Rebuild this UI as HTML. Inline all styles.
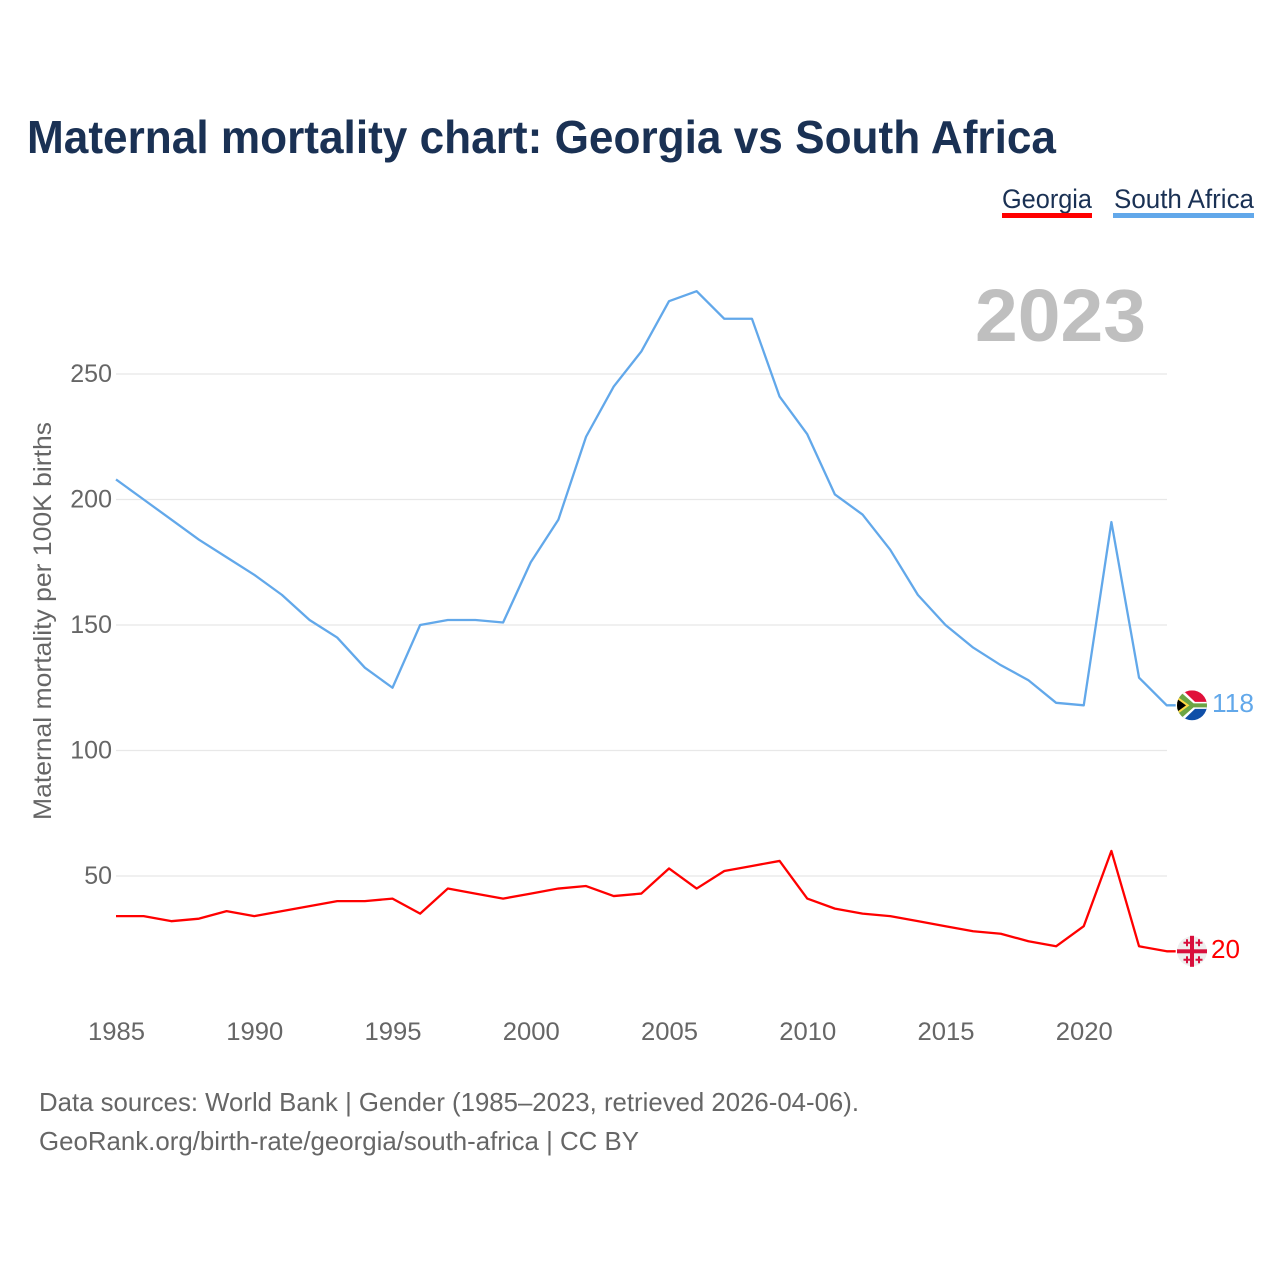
<!DOCTYPE html>
<html lang="en">
<head>
<meta charset="utf-8">
<title>Maternal mortality chart: Georgia vs South Africa</title>
<style>
html,body{margin:0;padding:0;background:#fff;width:1280px;height:1280px;overflow:hidden}
svg{display:block}
text{font-family:"Liberation Sans",sans-serif}
</style>
</head>
<body>
<svg id="chart" xmlns="http://www.w3.org/2000/svg" width="1280" height="1280" viewBox="0 0 1280 1280">
  <text x="27" y="153" font-size="46" font-weight="700" fill="#1a3154" textLength="1029" lengthAdjust="spacingAndGlyphs">Maternal mortality chart: Georgia vs South Africa</text>
  <g>
    <g>
      <text x="1002" y="208" font-size="27" fill="#1a3154" textLength="90" lengthAdjust="spacingAndGlyphs">Georgia</text>
      <rect x="1002" y="213" width="90" height="5" fill="#ff0000"/>
    </g>
    <g>
      <text x="1114" y="208" font-size="27" fill="#1a3154" textLength="140" lengthAdjust="spacingAndGlyphs">South Africa</text>
      <rect x="1113" y="213" width="141" height="5" fill="#62a8ea"/>
    </g>
  </g>
  <text x="975" y="341" font-size="74" font-weight="700" fill="#bfbfbf" textLength="171" lengthAdjust="spacingAndGlyphs">2023</text>
  <text transform="translate(51,820) rotate(-90)" x="0" y="0" font-size="25" fill="#666666" textLength="398" lengthAdjust="spacingAndGlyphs">Maternal mortality per 100K births</text>
  <g id="grid"></g>
  <g id="y-ticks"></g>
  <g id="x-ticks"></g>
  <g id="series"></g>
  <g id="end-markers">
    <g id="flag-za">
      <clipPath id="clip-za"><circle cx="0" cy="0" r="15"/></clipPath>
      <g clip-path="url(#clip-za)">
        <rect x="-15" y="-15" width="30" height="15" fill="#e0103a"/>
        <rect x="-15" y="0" width="30" height="15" fill="#0f4fa8"/>
        <polygon points="-15,-15 -9,-15 3,-3.5 15,-3.5 15,3.5 3,3.5 -9,15 -15,15" fill="#ffffff"/>
        <polygon points="-15,-13 -11,-13 1.5,-2 15,-2 15,2 1.5,2 -11,13 -15,13" fill="#6da544"/>
        <polygon points="-15,-9 -2.5,0 -15,9" fill="#ffda44"/>
        <polygon points="-15,-6.5 -6,0 -15,6.5" fill="#000000"/>
      </g>
    </g>
    <g id="flag-ge">
      <circle cx="0" cy="0" r="15" fill="#eeeeee"/>
      <rect x="-15" y="-2" width="30" height="4" fill="#d80f3c"/>
      <rect x="-2" y="-15.5" width="4" height="31" fill="#d80f3c"/>
      <path d="M-8.500 -9.500h2.500v-2.500h2v2.500h2.500v2h-2.500v2.500h-2v-2.500h-2.500z M3.500 -9.500h2.500v-2.500h2v2.500h2.500v2h-2.500v2.500h-2v-2.500h-2.500z M-8.500 7.500h2.500v-2.500h2v2.500h2.500v2h-2.500v2.500h-2v-2.500h-2.500z M3.500 7.500h2.500v-2.500h2v2.500h2.500v2h-2.500v2.500h-2v-2.500h-2.500z" fill="#d80f3c"/>
    </g>
    <text id="value-za" font-size="26" fill="#62a8ea" textLength="42" lengthAdjust="spacingAndGlyphs"></text>
    <text id="value-ge" font-size="26" fill="#ff0000" textLength="29" lengthAdjust="spacingAndGlyphs"></text>
  </g>
  <text x="39" y="1111" font-size="26" fill="#666666" textLength="820" lengthAdjust="spacingAndGlyphs">Data sources: World Bank | Gender (1985–2023, retrieved 2026-04-06).</text>
  <text x="39" y="1150" font-size="26" fill="#666666" textLength="600" lengthAdjust="spacingAndGlyphs">GeoRank.org/birth-rate/georgia/south-africa | CC BY</text>
</svg>
<script>
const years = [1985,1986,1987,1988,1989,1990,1991,1992,1993,1994,1995,1996,1997,1998,1999,2000,2001,2002,2003,2004,2005,2006,2007,2008,2009,2010,2011,2012,2013,2014,2015,2016,2017,2018,2019,2020,2021,2022,2023];
const southAfrica = [208,200,192,184,177,170,162,152,145,133,125,150,152,152,151,175,192,225,245,259,279,283,272,272,241,226,202,194,180,162,150,141,134,128,119,118,191,129,118];
const georgia = [34,34,32,33,36,34,36,38,40,40,41,35,45,43,41,43,45,46,42,43,53,45,52,54,56,41,37,35,34,32,30,28,27,24,22,30,60,22,20];
const yTicks = [50,100,150,200,250];
const xTicks = [1985,1990,1995,2000,2005,2010,2015,2020];

const NS = 'http://www.w3.org/2000/svg';
const xScale = function (year) { return 116 + (year - 1985) * 27.65; };
const yScale = function (value) { return 1001.5 - value * 2.51; };

const grid = document.getElementById('grid');
const yGroup = document.getElementById('y-ticks');
const xGroup = document.getElementById('x-ticks');
const seriesGroup = document.getElementById('series');

yTicks.forEach(function (tick) {
  const line = document.createElementNS(NS, 'line');
  
  
  line.setAttribute('x1', 116);
  line.setAttribute('x2', 1167);
  line.setAttribute('y1', yScale(tick));
  line.setAttribute('y2', yScale(tick));
  line.setAttribute('stroke', '#e8e8e8');
  line.setAttribute('stroke-width', 1.2);
  grid.appendChild(line);

  const label = document.createElementNS(NS, 'text');
  
  
  label.setAttribute('x', 112);
  label.setAttribute('y', yScale(tick) + 8);
  label.setAttribute('text-anchor', 'end');
  label.setAttribute('font-size', 25);
  label.setAttribute('fill', '#666666');
  label.textContent = tick;
  yGroup.appendChild(label);
});

xTicks.forEach(function (tick) {
  const label = document.createElementNS(NS, 'text');
  
  
  label.setAttribute('x', xScale(tick) + 0.5);
  label.setAttribute('y', 1040);
  label.setAttribute('text-anchor', 'middle');
  label.setAttribute('font-size', 25);
  label.setAttribute('fill', '#666666');
  label.setAttribute('textLength', 57);
  label.setAttribute('lengthAdjust', 'spacingAndGlyphs');
  label.textContent = tick;
  xGroup.appendChild(label);
});

function drawSeries(values, color, name) {
  const points = values.map(function (v, i) { return xScale(years[i]) + ',' + yScale(v); });
  const last = values[values.length - 1];
  points.push((xScale(years[years.length - 1]) + 9) + ',' + yScale(last));
  const line = document.createElementNS(NS, 'polyline');
  
  
  line.setAttribute('points', points.join(' '));
  line.setAttribute('fill', 'none');
  line.setAttribute('stroke', color);
  line.setAttribute('stroke-width', 2.3);
  line.setAttribute('stroke-linejoin', 'round');
  seriesGroup.appendChild(line);
}
drawSeries(southAfrica, '#62a8ea', 'south-africa-line');
drawSeries(georgia, '#ff0000', 'georgia-line');

const lastSA = southAfrica[southAfrica.length - 1];
const lastGE = georgia[georgia.length - 1];
document.getElementById('flag-za').setAttribute('transform', 'translate(1192,' + yScale(lastSA) + ')');
document.getElementById('flag-ge').setAttribute('transform', 'translate(1192,' + yScale(lastGE) + ')');
const valueZa = document.getElementById('value-za');
valueZa.setAttribute('x', 1212);
valueZa.setAttribute('y', yScale(lastSA) + 6.5);
valueZa.textContent = lastSA;
const valueGe = document.getElementById('value-ge');
valueGe.setAttribute('x', 1211);
valueGe.setAttribute('y', yScale(lastGE) + 6.5);
valueGe.textContent = lastGE;
</script>
</body>
</html>
